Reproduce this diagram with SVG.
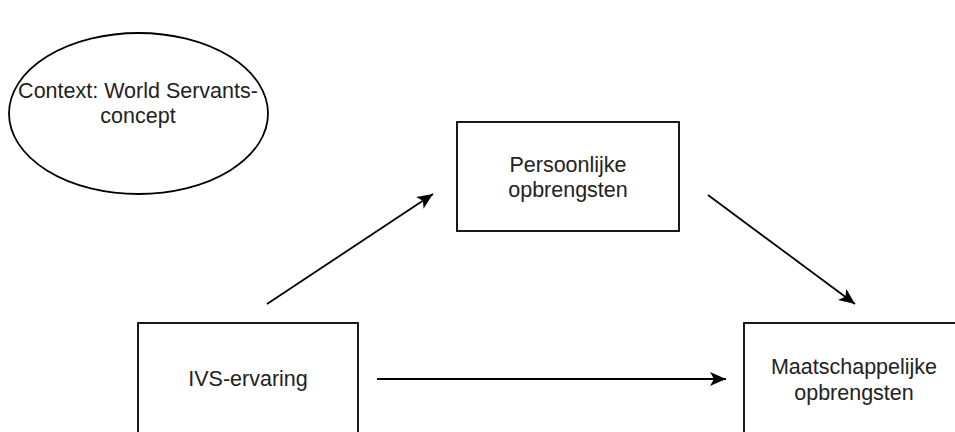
<svg xmlns="http://www.w3.org/2000/svg" width="955" height="432" viewBox="0 0 955 432">
<style>
.shape{fill:#ffffff;stroke:#000000;stroke-width:1.8}
.lbl{font-family:"Liberation Sans",Arial,Helvetica,sans-serif;font-size:21.5px;fill:#222222;text-anchor:middle}
.edge{stroke:#000000;stroke-width:1.8;fill:none;marker-end:url(#arr)}
</style>
<defs>
<marker id="arr" markerUnits="userSpaceOnUse" markerWidth="20" markerHeight="16" refX="16" refY="7" orient="auto">
<path d="M0,0 L16,7 L0,14 L4,7 Z" fill="#000000"/>
</marker>
</defs>
<rect width="955" height="432" fill="#ffffff"/>
<g id="context">
<ellipse class="shape" cx="138.5" cy="113.5" rx="129.5" ry="80.5"/>
<text class="lbl" x="138" y="98">Context: World Servants-</text>
<text class="lbl" x="138" y="123">concept</text>
</g>
<g id="persoonlijk">
<rect class="shape" x="457" y="122" width="222" height="109"/>
<text class="lbl" x="568" y="172">Persoonlijke</text>
<text class="lbl" x="568" y="197">opbrengsten</text>
</g>
<g id="ivs">
<rect class="shape" x="138" y="323" width="220" height="115"/>
<text class="lbl" x="248" y="386">IVS-ervaring</text>
</g>
<g id="maatschappelijk">
<rect class="shape" x="744" y="323" width="220" height="115"/>
<text class="lbl" x="854" y="374">Maatschappelijke</text>
<text class="lbl" x="854" y="400">opbrengsten</text>
</g>
<g id="connectors">
<line class="edge" x1="267" y1="304" x2="433" y2="194"/>
<line class="edge" x1="708" y1="195" x2="855" y2="304"/>
<line class="edge" x1="377" y1="379" x2="726" y2="379"/>
</g>
</svg>
